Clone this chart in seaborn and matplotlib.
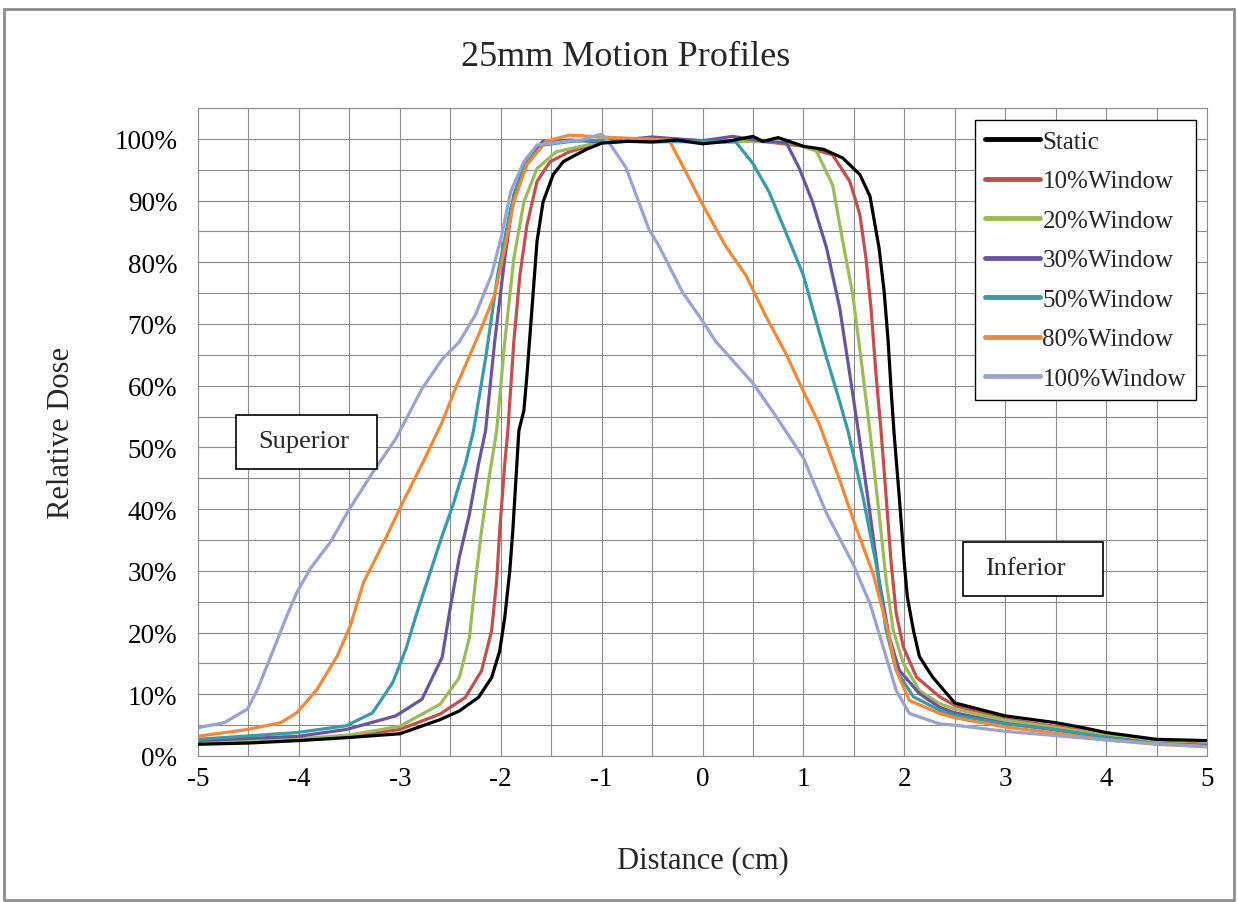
import pandas as pd
import matplotlib
matplotlib.use('Agg')
import matplotlib.pyplot as plt
import seaborn as sns
from matplotlib.patches import Rectangle
from matplotlib.ticker import MultipleLocator, FuncFormatter

# Profiles (distance in cm, relative dose in %)
static_x = [-5, -4.5, -4, -3.5, -3, -2.6, -2.41, -2.22, -2.09, -2.01, -1.96, -1.91, -1.88, -1.85, -1.82,
            -1.77, -1.74, -1.69, -1.64, -1.58, -1.48, -1.38, -1.29, -1.15, -1.0, -0.75, -0.5, -0.25, 0.0,
            0.25, 0.5, 0.6, 0.75, 1.0, 1.2, 1.39, 1.56, 1.66, 1.75, 1.80, 1.84, 1.87, 1.90, 1.95, 2.0,
            2.03, 2.09, 2.15, 2.28, 2.5, 3.0, 3.5, 3.77, 4.0, 4.5, 5.0]
static_y = [1.9, 2.1, 2.5, 3.0, 3.6, 5.9, 7.3, 9.5, 12.7, 17.0, 22.4, 30.0, 36.5, 44.6, 52.7,
            56.0, 61.7, 72.5, 83.4, 89.8, 94.2, 96.3, 97.1, 98.3, 99.3, 99.6, 99.5, 99.8, 99.2,
            99.6, 100.4, 99.6, 100.2, 98.8, 98.3, 96.9, 94.2, 90.7, 82.3, 75.3, 67.2, 59.1, 52.0, 42.0, 31.2,
            25.8, 20.4, 16.1, 12.8, 8.6, 6.5, 5.4, 4.6, 3.8, 2.7, 2.5]

w10_x = [-5, -4, -3.5, -3, -2.6, -2.35, -2.19, -2.09, -2.04, -2.01, -1.96, -1.93, -1.87, -1.81, -1.74,
         -1.64, -1.51, -1.32, -1.0, -0.5, 0, 0.5, 1.0, 1.29, 1.46, 1.56, 1.62, 1.67, 1.72, 1.77, 1.82,
         1.87, 1.92, 1.99, 2.12, 2.35, 2.5, 3.0, 3.5, 4.0, 4.5, 5.0]
w10_y = [2.1, 2.6, 3.2, 4.3, 6.8, 9.5, 13.8, 20.3, 28.4, 36.5, 47.3, 52.5, 67.1, 77.9, 86.0,
         93.1, 96.3, 97.9, 99.4, 99.8, 99.5, 99.8, 98.8, 97.4, 93.1, 87.7, 80.7, 72.6, 61.8, 52.6, 42.0,
         31.2, 23.1, 17.7, 12.8, 9.6, 8.2, 6.0, 4.8, 3.5, 2.3, 1.9]

w20_x = [-5, -4, -3.5, -3, -2.6, -2.41, -2.31, -2.25, -2.19, -2.12, -2.04, -1.96, -1.87, -1.77, -1.64,
         -1.45, -1.0, -0.5, 0, 0.5, 0.9, 1.13, 1.29, 1.39, 1.49, 1.57, 1.66, 1.75, 1.82, 1.89, 1.99,
         2.15, 2.35, 2.5, 3.0, 3.5, 4.0, 4.5, 5.0]
w20_y = [2.3, 2.8, 3.4, 4.8, 8.4, 12.7, 19.2, 28.4, 36.5, 44.6, 52.7, 67.1, 80.6, 89.8, 95.2,
         97.9, 99.5, 99.8, 99.4, 99.6, 99.3, 98.0, 92.5, 83.4, 74.7, 64.5, 52.5, 39.3, 28.5, 20.4, 15.0,
         10.6, 8.5, 7.6, 5.8, 4.6, 3.4, 2.2, 1.8]

w30_x = [-5, -4, -3.53, -3.04, -2.78, -2.58, -2.5, -2.41, -2.31, -2.22, -2.15, -2.06, -1.96, -1.87,
         -1.74, -1.58, -1.3, -1.0, -0.5, 0, 0.3, 0.6, 0.83, 0.96, 1.09, 1.23, 1.36, 1.46, 1.55, 1.66,
         1.75, 1.85, 1.95, 2.15, 2.35, 2.5, 3.0, 3.5, 4.0, 4.5, 5.0]
w30_y = [2.5, 3.2, 4.3, 6.5, 9.2, 16.0, 24.0, 32.2, 39.2, 47.3, 52.7, 67.1, 80.6, 90.9,
         96.9, 99.6, 99.8, 99.5, 100.3, 99.7, 100.4, 99.6, 99.4, 95.2, 89.8, 82.3, 72.6, 61.8, 52.0, 39.3,
         28.5, 19.3, 13.9, 10.1, 7.9, 7.0, 5.3, 4.2, 3.0, 2.0, 1.7]

w50_x = [-5, -4.02, -3.53, -3.27, -3.07, -2.94, -2.84, -2.71, -2.58, -2.47, -2.35, -2.27, -2.15, -2.03,
         -1.9, -1.77, -1.58, -1.3, -1.0, -0.5, 0, 0.33, 0.5, 0.66, 0.83, 1.0, 1.09, 1.23, 1.36, 1.44,
         1.59, 1.72, 1.82, 1.92, 2.09, 2.35, 2.5, 3.0, 3.5, 4.0, 4.5, 5.0]
w50_y = [2.7, 3.8, 4.9, 7.0, 11.9, 17.3, 22.7, 29.2, 35.7, 40.8, 47.3, 52.7, 64.4, 78.0,
         88.8, 95.8, 99.0, 99.6, 99.8, 99.5, 99.6, 99.5, 96.0, 91.4, 84.7, 77.9, 72.6, 64.5, 57.4, 52.8,
         42.0, 31.2, 20.4, 13.9, 9.6, 7.4, 6.6, 5.2, 4.3, 3.0, 2.0, 1.6]

w80_x = [-5, -4.51, -4.18, -4.02, -3.82, -3.62, -3.49, -3.36, -3.16, -2.97, -2.77, -2.58, -2.45, -2.22,
         -2.06, -1.96, -1.87, -1.74, -1.55, -1.32, -1.0, -0.6, -0.33, -0.17, 0.0, 0.23, 0.43, 0.63, 0.83,
         1.0, 1.16, 1.36, 1.52, 1.69, 1.82, 1.92, 2.05, 2.35, 2.5, 3.0, 3.5, 4.0, 4.5, 5.0]
w80_y = [3.2, 4.3, 5.4, 7.0, 10.8, 16.2, 21.1, 28.1, 34.6, 41.1, 47.6, 54.1, 59.5, 68.2,
         74.7, 82.3, 89.8, 95.8, 99.6, 100.6, 100.3, 100.0, 99.8, 94.8, 89.4, 82.6, 77.9, 71.2, 65.1,
         59.1, 53.7, 44.7, 37.1, 29.6, 21.5, 13.9, 9.0, 6.9, 6.2, 4.7, 3.7, 2.6, 1.9, 1.5]

w100_x = [-5, -4.74, -4.51, -4.41, -4.25, -4.12, -4.02, -3.89, -3.69, -3.5, -3.27, -3.04, -2.78, -2.58,
          -2.41, -2.25, -2.09, -1.99, -1.9, -1.77, -1.64, -1.4, -1.2, -1.0, -0.93, -0.76, -0.53, -0.43,
          -0.2, 0.0, 0.13, 0.5, 0.73, 1.0, 1.23, 1.49, 1.66, 1.79, 1.92, 2.05, 2.35, 2.5, 3.0, 3.5, 4.0,
          4.5, 5.0]
w100_y = [4.6, 5.4, 7.6, 10.8, 17.3, 22.7, 26.5, 30.3, 34.6, 40.0, 45.9, 51.4, 59.5, 64.3,
          67.1, 71.5, 78.0, 84.4, 91.5, 96.3, 99.0, 99.5, 99.8, 100.8, 99.5, 95.4, 85.3, 82.6,
          75.2, 70.5, 67.2, 60.4, 55.0, 48.3, 39.3, 31.2, 24.7, 17.7, 10.6, 6.9, 5.2, 5.0, 4.0, 3.3, 2.6,
          2.0, 1.5]

labels = ['Static', '10%Window', '20%Window', '30%Window', '50%Window', '80%Window', '100%Window']
colors = ['#000000', '#C0504D', '#9BBB59', '#6A559C', '#3A9AA6', '#F08A3A', '#9AA3D0']
series_x = [static_x, w10_x, w20_x, w30_x, w50_x, w80_x, w100_x]
series_y = [static_y, w10_y, w20_y, w30_y, w50_y, w80_y, w100_y]

# long table for seaborn
frames = []
for lab, xs, ys in zip(labels, series_x, series_y):
    frames.append(pd.DataFrame({'Distance': xs, 'Dose': ys, 'Series': lab}))
df = pd.concat(frames, ignore_index=True)

sns.set_style('white')
plt.rcParams['font.family'] = ['Liberation Serif', 'DejaVu Serif']
plt.rcParams['axes.unicode_minus'] = False

fig = plt.figure(figsize=(12.38, 9.03), dpi=100)
ax = fig.add_axes([198 / 1238, 1 - 757 / 903, 1009 / 1238, 648 / 903])

sns.lineplot(data=df, x='Distance', y='Dose', hue='Series', hue_order=labels,
             palette=dict(zip(labels, colors)), sort=False, estimator=None,
             linewidth=2.3, ax=ax)

# keep the static line on top like the reference
for line in ax.get_lines():
    if line.get_color() in ('#000000', 'k', (0.0, 0.0, 0.0, 1)):
        line.set_zorder(5)

ax.set_xlim(-5, 5)
ax.set_ylim(0, 105)
ax.xaxis.set_major_locator(MultipleLocator(1))
ax.xaxis.set_minor_locator(MultipleLocator(0.5))
ax.yaxis.set_major_locator(MultipleLocator(10))
ax.yaxis.set_minor_locator(MultipleLocator(5))
ax.yaxis.set_major_formatter(FuncFormatter(lambda v, p: f'{v:.0f}%'))
ax.set_yticks([v for v in range(0, 101, 10)])

ax.grid(True, which='both', color='#8c8c8c', linewidth=0.8)
ax.set_axisbelow(True)
for s in ax.spines.values():
    s.set_color('#8c8c8c')
    s.set_linewidth(0.8)

ax.tick_params(axis='both', which='both', direction='out', length=0, labelsize=19.5, colors='#000000')
ax.tick_params(axis='x', pad=7)
ax.tick_params(axis='y', pad=15)

ax.set_xlabel('Distance (cm)', fontsize=22)
ax.set_ylabel('Relative Dose', fontsize=22)
ax.xaxis.set_label_coords(0.5, -0.137)
ax.yaxis.set_label_coords(-0.121, 0.5)

leg = ax.legend(loc='upper right', bbox_to_anchor=(0.989, 0.981), borderaxespad=0,
                frameon=True, fancybox=False, fontsize=18, handlelength=2.2,
                handletextpad=0.08, labelspacing=0.68, borderpad=0.4, title=None)
leg.get_frame().set_edgecolor('#000000')
leg.get_frame().set_linewidth(1.0)
leg.get_frame().set_alpha(1)
for h in leg.get_lines():
    h.set_linewidth(3.5)

# annotation boxes, drawn in data units
ax.add_patch(Rectangle((-4.623, 46.5), 1.397, 8.8, facecolor='white', edgecolor='black',
                       linewidth=1.2, zorder=6))
ax.text(-4.405, 51.0, 'Superior', fontsize=19, ha='left', va='center', zorder=7)
ax.add_patch(Rectangle((2.582, 25.9), 1.387, 8.8, facecolor='white', edgecolor='black',
                       linewidth=1.2, zorder=6))
ax.text(2.80, 30.4, 'Inferior', fontsize=19, ha='left', va='center', zorder=7)

fig.text(0.505, 1 - 57 / 903, '25mm Motion Profiles', fontsize=26, ha='center', va='center')

# chart-area frame
fig.patches.append(Rectangle((4 / 1238, 0.002), 1230 / 1238, 1 - 10 / 903 - 0.002,
                             transform=fig.transFigure, fill=False, edgecolor='#8c8c8c',
                             linewidth=2))

fig.savefig('out.png', dpi=100)
